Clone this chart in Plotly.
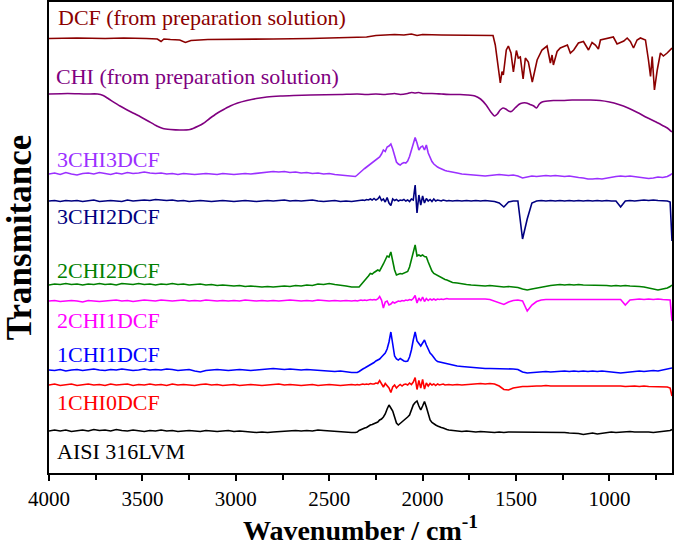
import plotly.graph_objects as go

# shared wavenumber sampling for the sample spectra (cm-1)
wn_grid = (list(range(4000, 2379, -30)) + list(range(2360, 1859, -10))
           + list(range(1840, 689, -25)) + [675, 665])

# deviations (a.u.) of each sample spectrum from its own baseline
aisi = [0,1,0,1,-0.5,0.5,1,0,1.5,0.5, 1,0,1.5,0.5,0,1,0.5,-0.5,0.5,0, 1,0,0.5,-0.5,0,0.5,0,-0.5,0.5,0,
        -0.5,0,0.5,-0.5,0,-0.5,-1,-1.5,-1,-1.5, -1,-0.5,-0.5,0,0.5,0,0.5,0,1,0.5, 0,-0.5,-0.5,-1,-1.5,
        -1.5,-1,0.5,1.5,2,3,3.5,5,6,6.5, 7.5,8,9,11,12,14,17,22,26,23, 20,14,8,6,7.5,9.5,11,12.5,14,16,
        21,26,28.5,30,25,21,25,29.5,24,17, 11,8.5,7,6,5,4,3.5,3,2,1.5, 1,
        0.5,0,-0.5,0,-0.5,-1,-0.5,-1,-1,-1.5, -1,-1.5,-1,-1,-1.5,-1,-1,-1.5,-1,-1.5,
        -1,-1.5,-1,-1,-1.5,-2,-2,-2.5,-3.5,-2.5, -2,-3,-2.5,-1.5,-1,-1.5,-1,-1,-0.5,-1,
        -1,-0.5,-1,-1.5,-1,-0.5,-0.5, 0.5,1.5]

chi1_dcf0 = [0,1,-0.5,0.5,1,-0.5,0,1,0,0.5, -0.5,1,0,0.5,1,-0.5,0.5,0,1,0, 0.5,-0.5,1,0,0.5,0,-0.5,0.5,1,0,
             0.5,-0.5,0,0.5,-0.5,0,0.5,0,-0.5,0, 0.5,1,0,0.5,0,-0.5,0,0.5,-0.5,0, 0.5,0,-0.5,0,0.5,
             0,0.5,0,0.5,1,0.5,1,0.5,1.5,1, 1,2,1.5,4.5,1,-2,1.5,-1,-3,-7.5, -2,0,-3,-1,0.5,-1,0.5,1,0,2,
             0.5,3,7.5,-4.5,4.5,-3,5.5,-4,2,-1, 1.5,0,1,-0.5,1,0,0.5,1,0,0.5, 0.5,
             0,0.5,0,0.5,1,1,1.5,1,1.5,1, -1,-4.5,-5,-3,-2,-1.5,-1.5,-1,-1,-1,
             -0.5,-1,-1,-0.5,-1,-0.5,-1,-1,-0.5,-1, -1,-0.5,-1,-1,-0.5,-1,-1,-1.5,-1,-1,
             -1.5,-1,-1.5,-1.5,-2,-1.5,-2, -3,-11]

chi1_dcf1 = [0,-0.5,0.5,-1,0,0.5,-0.5,0,1,0, -0.5,0.5,0,1,0.5,-0.5,0,1,0,0.5, 0,1,0.5,-0.5,0,0.5,-1,-2,-0.5,0,
             0.5,0,-0.5,0,0.5,0,-0.5,0,0.5,1, 1.5,1,0.5,1,0.5,0,0.5,0,-0.5,-0.5, -1,-1.5,-1,-2,-2.5,
             -2.5,-2.5,-1.5,0,1,2,3,4,5,6, 7.5,9,10,11,13,15.5,17,21,28,38, 25,14,11,10,11.5,10,9,8.5,9,13,
             20,30,38,29,26,24,27,30,25,21, 17,15,12,10,8.5,8,7.5,7,7,6.5, 6,
             5,4,3.5,3,2.5,2,2,1.5,1.5,1.5, 1,1,1.5,1,0.5,-2,-3,-2.5,-2,-2,
             -1.5,-2,-1.5,-1.5,-1,-1.5,-1,-1.5,-1,-1.5, -1,-1.5,-1,-1.5,-2,-2.5,-3,-2.5,-2,-1.5,
             -1,-1.5,-1,-0.5,-1,0,0.5, 1,2]

chi2_dcf1 = [0,0.5,-0.5,0,0.5,0,-1,0.5,0,-0.5, 0,0.5,1,0,0.5,-0.5,0,1,0.5,0, 1,0.5,0,0.5,1,0,0.5,0,1,0.5,
             0,0.5,0,0.5,0,1,0.5,0,0.5,0, 0.5,0,0.5,1,0.5,0,0.5,0,1,0.5, 0,0.5,0,0.5,0,
             0.5,0,0.5,1,0.5,1,0.5,1,1.5,1, 1.5,1,2,4.5,1,-7,-1,0,-4,-3, -1,-2,-1,0,-0.5,0.5,0,1,0.5,1.5,
             1,2.5,5.5,-2,3,0,4,-0.5,2.5,0.5, 2,1,2,1,2,1.5,2,1.5,2,2.5, 2,
             2,2.5,2,2.5,2,2.5,2,2,1.5,0, -2,-3.5,-1,0.5,1,0,-10,-4,-0.5,1,
             1.5,1.5,2,1.5,2,1.5,2,2,1.5,2, 2,1.5,2,2,1.5,2,1.5,-4,1,1.5,
             2,1.5,2,1.5,2,1.5,1.5, 1,-20]

chi2_dcf2 = [2,3,2.5,3.5,2.5,3,2,3,2.5,3.5, 2.5,3,2,3.5,3,2.5,3.5,2.5,3,2, 3,2.5,3.5,2.5,3,2,2.5,3,2,2.5,
             1.5,2,1.5,1,1.5,0.5,1,0.5,0,0.5, 0,0.5,1,0.5,1.5,1,2,1.5,3,2.5, 3.5,2.5,2,1,0,
             0.5,0,0,2,4,6.5,9,11,13.5,13, 14.5,15.5,17,16,19,23,27,31,30,35, 26,17,12,13,13.5,13,14,14.5,15.5,20,
             28,35,42,31,32,31,32,30.5,30,25, 20,16,13.5,12.5,11,10,9,8,7.5,7, 6,
             4.5,4,3,2.5,2,1.5,1.5,1,1.5,1, 0.5,0,0.5,0,-0.5,-2,-3,-2,-1,0,
             1,1.5,2,2.5,2,2.5,2,2.5,2,2, 1.5,2,2,1.5,1,1.5,1,1.5,1,1,
             0.5,0,-1,-2,-3,-2,-1, 0.5,2]

chi3_dcf2 = [0,0.5,-0.5,0.5,0,0.5,-0.5,0,1,-0.5, 0,0.5,0,-0.5,1,0,0.5,1,0.5,1.5, 1,0.5,1,0,0.5,-0.5,0,0.5,0,-0.5,
             0,0.5,0,-0.5,0,0.5,0,-0.5,0,0.5, 0,0.5,1,0,0.5,0,0.5,1,0,-0.5, 0,0.5,-0.5,0,-0.5,
             0,0.5,0,0.5,1,0.5,1.5,1,2,1, 2.5,1,2,4.5,0.5,2,-1,3.5,-2,-4.5, 2,0.5,1.5,0,1,0.5,1.5,0,1,-0.5,
             2,1,16,-12,6,-4,5,-2,2.5,0, 1.5,-0.5,2,0,1,0.5,0,1,0.5,0, 0.5,
             0,0.5,0,0.5,0,0.5,0,0.5,0,-0.5, -2,-6,-1,0,0,-38,-18,-2,0,0.5,
             0,0.5,0,0.5,0,0.5,0,0.5,0,0.5, 0,0.5,0,0.5,0,0,-6,0,0.5,0,
             0.5,1,0.5,1,0.5,0.5,0, -1,-40]

chi3_dcf3 = [0,1,-0.5,1.5,0,-1,0.5,1,0,1.5, 0.5,-0.5,1,0,1.5,0.5,1,2,1,0.5, 1,0,0.5,-0.5,0.5,0,-0.5,0,0.5,0,
             -0.5,0.5,0,-0.5,0,0.5,0,0.5,1,1.5, 2.5,2,2.5,1.5,2,1,1.5,0.5,1,0, 0.5,-0.5,-1,-2,-2.5,
             -2.5,-1,1,2.5,4,5.5,7,8.5,10,11.5, 12.5,14,15.5,17,20,24,22.5,27,28,30, 25,18,12,10,9,10.5,11.5,11,13,17.5,
             24,31,36.5,31,24,27,28,24,29,21, 16,12.5,10,8,7,6,5,4.5,3.5,3, 2.5,
             1.5,1,0,-0.5,-1,-1.5,-2,-2,-1.5,-1, -0.5,-1,-1.5,-1,-2,-4,-3,-2,-2.5,-2,
             -1.5,-2,-1.5,-2,-2.5,-2,-3,-3.5,-4,-5, -5,-4.5,-5,-4,-3,-2.5,-2,-2.5,-2,-2.5,
             -3,-4,-4.5,-4,-3,-3.5,-2.5, -1,0.5]

# precursor spectra on their own sampling
chi_wn = [4000,3900,3800,3740,3710,3680,3620,3560,3513,3470,3423,3390,3350,3300,3245,3200,3175,3140,
          3102,3060,3030,2990,2941,2890,2834,2760,2691,2600,2441,2350,2300,2250,2200,2150,2120,2080,
          2060,2040,2020,2000,1950,1900,1850,1800,1760,1720,1690,1660,1635,1615,1600,1585,1570,1555,
          1540,1525,1505,1485,1465,1445,1425,1405,1390,1375,1360,1330,1300,1250,1200,1150,1100,1050,
          1000,950,900,850,800,750,710,690,665]
chi_dev = [0,0.5,0,0,-1.5,-5,-12,-18,-22.5,-27,-32,-34.5,-35.5,-36,-35.5,-32,-29.5,-24.5,
           -19.5,-15,-12,-9,-6.5,-4.5,-3,-2,-1.5,-1,-0.5,0,-0.5,0,-0.5,0.5,-0.5,0.5,
           1.5,1,1.5,0.5,0.5,0,-0.5,-0.5,-1,-2,-5,-11,-18,-22,-20,-16,-14,-15,
           -17,-17.5,-14,-10.5,-9,-9,-10.5,-12,-14,-10,-8,-7,-6.5,-6.5,-6,-6,-6,-6.5,
           -8,-10.5,-14,-18.5,-23.5,-28,-32,-34,-38]

dcf_wn = [4000,3850,3700,3600,3480,3420,3400,3385,3350,3300,3270,3240,3150,3000,2900,2800,2600,2400,
          2300,2250,2200,2150,2100,2060,2030,2000,1900,1800,1700,1623,1611,1584,1575,1568,1552,1541,
          1527,1514,1498,1488,1477,1462,1450,1434,1413,1387,1361,1334,1316,1307,1300,1280,1263,1247,
          1225,1209,1191,1166,1139,1112,1093,1075,1059,1048,979,959,923,905,888,871,852,834,807,791,
          780,771,759,744,727,711,691,665]
dcf_dev = [0,0.5,0,0.5,0,-0.5,-3,-0.5,-1,-1.5,-4,-2,-1,-1,-0.5,-0.5,0,0.5,
           1.5,3,3.5,4,3.5,4.5,3,4,3.5,3.5,3,3,-6.5,-44.5,-33,-36.5,-11.5,-7.5,
           -14.5,-33.5,-12,-19.5,-18.5,-40.5,-19.5,-23.5,-43.5,-21.5,-11.5,-7.5,-24.5,-16.5,-26.5,-13,-9.5,-8,
           -6.5,-14.5,-11.5,-4.5,-3,-11.5,-4,-6.5,-10.5,-1.5,1.5,-5.5,-2.5,0.5,-3,-9.5,-1.5,0.5,-1.5,-21.5,
           -38,-18,-51.5,-31.5,-14.5,-17.5,-14.5,-9.5]

names = ["AISI 316LVM", "1CHI0DCF", "1CHI1DCF", "2CHI1DCF", "2CHI2DCF", "3CHI2DCF", "3CHI3DCF",
         "CHI (from preparation solution)", "DCF (from preparation solution)"]
series = [aisi, chi1_dcf0, chi1_dcf1, chi2_dcf1, chi2_dcf2, chi3_dcf2, chi3_dcf3, chi_dev, dcf_dev]
xs = [wn_grid] * 7 + [chi_wn, dcf_wn]
offsets = [42, 88, 103, 172, 186, 272, 299, 379, 434.5]   # vertical stacking offsets (a.u.)
label_pos = [(55, 451), (55, 402), (55, 354), (55, 320), (55, 270), (55, 216), (55, 159), (54, 77), (56, 18)]
colors = ["#000000", "#FF0000", "#0000FF", "#FF00FF", "#008000", "#000080", "#9B30FF", "#800080", "#8B0000"]

for n, s, x in zip(names, series, xs):
    assert len(s) == len(x), (n, len(s), len(x))

fig = go.Figure()
for n, s, x, off, c in zip(names, series, xs, offsets, colors):
    fig.add_trace(go.Scatter(
        x=x, y=[off + v for v in s], mode="lines", name=n,
        line=dict(color=c, width=1.6, shape="spline" if n.startswith("CHI") else "linear", smoothing=0.6),
        hoverinfo="skip"))

L, R, T, B = 49, 3, 2, 74
W, H = 675, 547
pw, ph = W - L - R, H - T - B
for n, (px, py), c in zip(names, label_pos, colors):
    fig.add_annotation(text=n, xref="paper", yref="paper",
                       x=(px - L) / pw, y=(H - B - py) / ph, xanchor="left", yanchor="middle",
                       showarrow=False, font=dict(family="Liberation Serif", size=22, color=c))

fig.update_layout(
    width=W, height=H, margin=dict(l=L, r=R, t=T, b=B, autoexpand=False),
    paper_bgcolor="white", plot_bgcolor="white", showlegend=False,
    font=dict(family="Liberation Serif", color="black"),
    xaxis=dict(range=[4000, 665], tickmode="array", automargin=False,
               tickvals=[4000, 3500, 3000, 2500, 2000, 1500, 1000],
               ticks="outside", ticklen=6, tickwidth=1.5, tickcolor="black",
               minor=dict(tickvals=[3750, 3250, 2750, 2250, 1750, 1250, 750], ticks="outside",
                          ticklen=5, tickwidth=1.5, tickcolor="black"),
               tickfont=dict(family="Liberation Serif", size=21, color="black"),
               showline=True, linecolor="black", linewidth=1.5, mirror=True,
               showgrid=False, zeroline=False,
               title=dict(text="Wavenumber / cm<sup>-1</sup>", standoff=0,
                          font=dict(family="Liberation Serif", size=28, color="black", weight="bold"))),
    yaxis=dict(range=[0, 471], showticklabels=False, ticks="", automargin=False,
               showline=True, linecolor="black", linewidth=1.5, mirror=True,
               showgrid=False, zeroline=False,
               title=dict(text="Transmitance", standoff=24,
                          font=dict(family="Liberation Serif", size=35, color="black", weight="bold"))),
)

fig.write_html("out.html", config={"displayModeBar": False},
               post_script="document.body.style.margin='0';document.body.style.overflow='hidden';")
